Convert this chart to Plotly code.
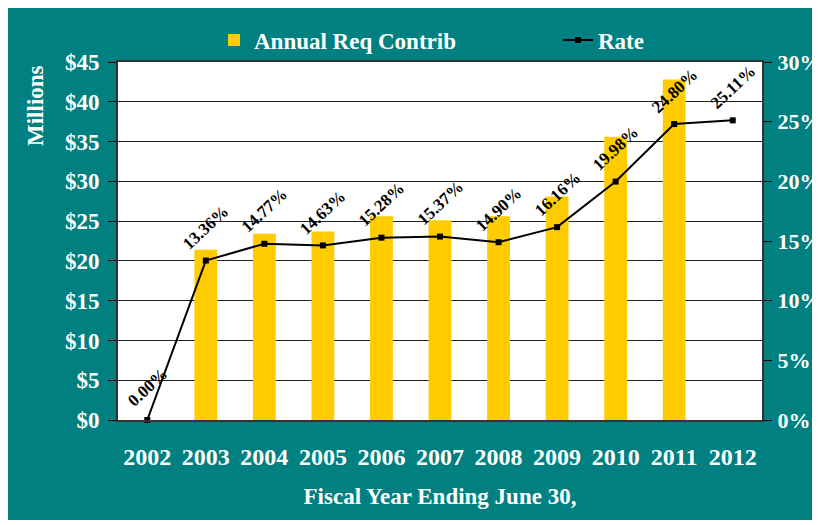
import plotly.graph_objects as go

years = ["2002", "2003", "2004", "2005", "2006", "2007", "2008", "2009", "2010", "2011", "2012"]
contrib = [None, 21.4, 23.4, 23.7, 25.6, 25.1, 25.6, 28.1, 35.6, 42.8, None]
rate = [0.0, 13.36, 14.77, 14.63, 15.28, 15.37, 14.90, 16.16, 19.98, 24.80, 25.11]
rate_labels = ["0.00%", "13.36%", "14.77%", "14.63%", "15.28%", "15.37%", "14.90%", "16.16%", "19.98%", "24.80%", "25.11%"]

TEAL = "#008080"
GOLD = "#FFCC00"
FONT = "Liberation Serif"
OFF = 8  # page body margin

# target plot area in screen pixels
SL, SR, ST, SB = 118, 762, 62, 420
W, H = 812, 512
L, R, T, B = SL - OFF, W - (SR - OFF), ST - OFF, H - (SB - OFF)
pw, ph = SR - SL, SB - ST

def px(xs):
    return (xs - SL) / pw

def py(ys):
    return (SB - ys) / ph

fig = go.Figure()
fig.add_trace(go.Bar(x=years, y=contrib, name="Annual Req Contrib", legend="legend",
                     marker=dict(color=GOLD, line=dict(width=0)), width=0.39))
fig.add_trace(go.Scatter(x=years, y=[r / 100 for r in rate], name="Rate", yaxis="y2",
                         legend="legend2",
                         mode="lines+markers", line=dict(color="black", width=2),
                         marker=dict(symbol="square", size=6, color="black"),
                         cliponaxis=False))

for i, (r, lab) in enumerate(zip(rate, rate_labels)):
    fig.add_annotation(x=i, y=r / 100, xref="x", yref="y2", text=lab, showarrow=False,
                       textangle=-43, yshift=33, xanchor="center", yanchor="middle",
                       font=dict(family=FONT, size=17, color="black", weight="bold"))

fig.add_annotation(x=px(35), y=py(106), xref="paper", yref="paper", text="Millions",
                   showarrow=False, textangle=-90, xanchor="center", yanchor="middle",
                   font=dict(family=FONT, size=23, color="white", weight="bold"))

legend_font = dict(family=FONT, size=23, color="white", weight="bold")

fig.update_layout(
    width=W, height=H,
    margin=dict(l=L, r=R, t=T, b=B, autoexpand=False),
    paper_bgcolor=TEAL,
    plot_bgcolor="white",
    bargap=0.6,
    showlegend=True,
    legend=dict(orientation="h", x=px(214), xanchor="left", y=py(40), yanchor="middle",
                font=legend_font, bgcolor="rgba(0,0,0,0)"),
    legend2=dict(orientation="h", x=px(558), xanchor="left", y=py(40), yanchor="middle",
                 font=legend_font, bgcolor="rgba(0,0,0,0)"),
    xaxis=dict(type="category", range=[-0.5, 10.5], showgrid=False, showline=True,
               linecolor="#333333", linewidth=2, automargin=False,
               mirror=True, ticks="", ticklabelstandoff=14,
               tickfont=dict(family=FONT, size=24, color="white", weight="bold"),
               title=dict(text="Fiscal Year Ending June 30,", standoff=19,
                          font=dict(family=FONT, size=23, color="white", weight="bold"))),
    yaxis=dict(range=[0, 45], dtick=5, tickprefix="$", showgrid=True, gridcolor="#222222",
               gridwidth=1, showline=True, linecolor="#333333", linewidth=2, automargin=False,
               ticks="outside", ticklen=8, tickcolor="black", zeroline=False,
               ticklabelstandoff=4,
               tickfont=dict(family=FONT, size=23, color="white", weight="bold")),
    yaxis2=dict(range=[0, 0.30], dtick=0.05, tickformat=".0%", overlaying="y", side="right",
                showgrid=False, showline=True, linecolor="#333333", linewidth=2, automargin=False,
                ticks="outside", ticklen=8, tickcolor="black", zeroline=False,
                ticklabelstandoff=1,
                tickfont=dict(family=FONT, size=22, color="white", weight="bold")),
)

fig.write_html("out.html")
